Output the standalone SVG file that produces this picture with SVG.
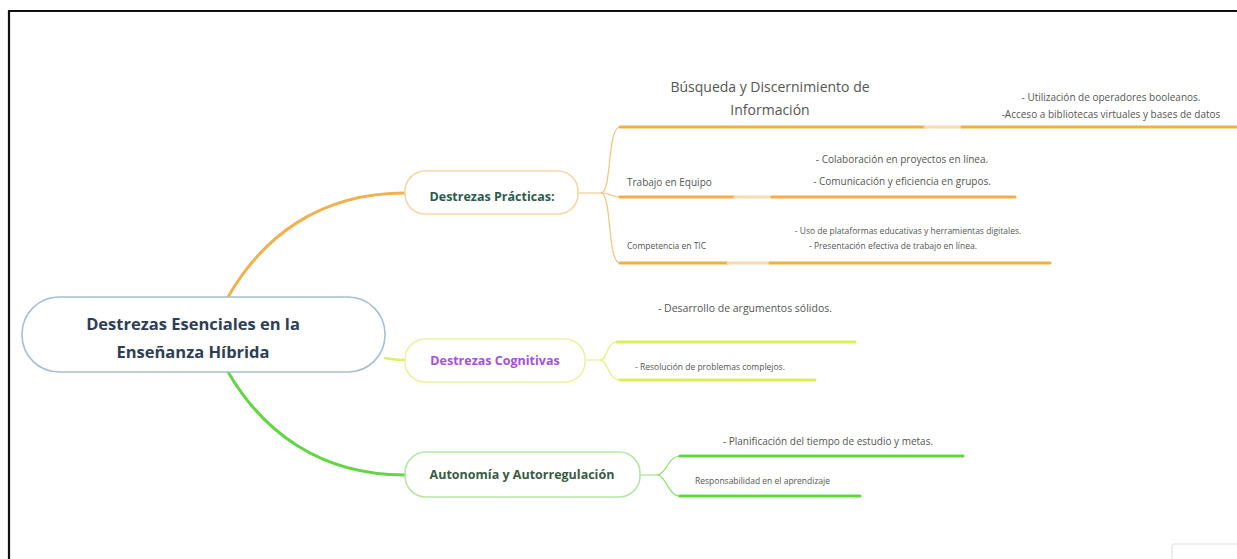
<svg xmlns="http://www.w3.org/2000/svg" width="1237" height="559" viewBox="0 0 1237 559">
<style>
.bg{fill:#ffffff}
.node{fill:#ffffff;stroke-width:1.6}
.nt{font-family:"Open Sans","Noto Sans",sans-serif;font-weight:bold;text-anchor:middle}
.lt{font-family:"Open Sans","Noto Sans",sans-serif;fill:#555555}
.thin{fill:none;stroke-width:1.2}
.ul{fill:none;stroke-width:3;stroke-linecap:round}
.o{stroke:#f2ad4a}
.op{stroke:#f7dcb0}
.y{stroke:#dcef5a}
.g{stroke:#5ed83c}
</style>
<rect class="bg" x="0" y="0" width="1237" height="559"/>
<path d="M9,559 V11 H1237" fill="none" stroke="#111111" stroke-width="2.2"/>
<rect x="1172" y="544" width="80" height="30" rx="3" fill="none" stroke="#e8e8e8" stroke-width="1.5"/>

<g id="connectors">
  <path d="M228,297 C262,238 318,193 405,193" fill="none" stroke="#f2b04e" stroke-width="3"/>
  <path d="M384,358 C392,359 398,360 407,360" fill="none" stroke="#dcef6a" stroke-width="2.5"/>
  <path d="M228,372 C262,430 318,475 405,475" fill="none" stroke="#62d644" stroke-width="3"/>
  <path class="thin" stroke="#f3c47c" d="M578,193 L601,193 C612,193 607,127 620,127"/>
  <path class="thin" stroke="#f3c47c" d="M601,193 C610,193 612,197 620,197"/>
  <path class="thin" stroke="#f3c47c" d="M601,193 C612,193 607,263 620,263"/>
  <path class="thin" stroke="#e2f07a" d="M585,360 L600,360 C608,360 606,342 617,342"/>
  <path class="thin" stroke="#e2f07a" d="M600,360 C608,360 608,380 620,380"/>
  <path class="thin" stroke="#8fe074" d="M640,475 L657,475 C666,475 668,456 680,456"/>
  <path class="thin" stroke="#8fe074" d="M657,475 C666,475 668,496 680,496"/>
</g>

<g id="root">
  <rect class="node" x="22" y="297" width="363" height="75" rx="37" stroke="#a7bdd6"/>
  <text class="nt" x="193" y="330" font-size="16.5" fill="#2f3e57">Destrezas Esenciales en la</text>
  <text class="nt" x="193" y="358" font-size="16.5" fill="#2f3e57">Enseñanza Híbrida</text>
</g>

<g id="practicas">
  <rect class="node" x="405" y="171" width="173" height="43" rx="20" stroke="#f6d7a6"/>
  <text class="nt" x="492" y="201" font-size="12.5" fill="#2d5a4c">Destrezas Prácticas:</text>
</g>

<g id="busqueda">
  <text class="lt" x="770" y="92" font-size="14" text-anchor="middle" fill="#444444">Búsqueda y Discernimiento de</text>
  <text class="lt" x="770" y="115" font-size="14" text-anchor="middle" fill="#444444">Información</text>
  <path class="ul o" d="M620,127 H925"/>
  <path class="ul op" d="M925,127 H962"/>
  <path class="ul o" d="M962,127 H1240"/>
  <text class="lt" x="1111" y="101" font-size="10" text-anchor="middle">- Utilización de operadores booleanos.</text>
  <text class="lt" x="1111" y="118" font-size="10" text-anchor="middle">-Acceso a bibliotecas virtuales y bases de datos</text>
</g>

<g id="trabajo">
  <text class="lt" x="627" y="186" font-size="10">Trabajo en Equipo</text>
  <text class="lt" x="902" y="163" font-size="10" text-anchor="middle">- Colaboración en proyectos en línea.</text>
  <text class="lt" x="902" y="185" font-size="10" text-anchor="middle">- Comunicación y eficiencia en grupos.</text>
  <path class="ul o" d="M620,197 H735"/>
  <path class="ul op" d="M735,197 H772"/>
  <path class="ul o" d="M772,197 H1015"/>
</g>

<g id="competencia">
  <text class="lt" x="627" y="249" font-size="8.5">Competencia en TIC</text>
  <text class="lt" x="908" y="234" font-size="8.5" text-anchor="middle">- Uso de plataformas educativas y herramientas digitales.</text>
  <text class="lt" x="893" y="249" font-size="8.5" text-anchor="middle">- Presentación efectiva de trabajo en línea.</text>
  <path class="ul o" d="M620,263 H728"/>
  <path class="ul op" d="M728,263 H770"/>
  <path class="ul o" d="M770,263 H1050"/>
</g>

<g id="cognitivas">
  <rect class="node" x="405" y="339" width="180" height="43" rx="20" stroke="#edf2a2"/>
  <text class="nt" x="495" y="365" font-size="12.5" fill="#a64fe0">Destrezas Cognitivas</text>
</g>

<g id="cog-items">
  <text class="lt" x="745" y="312" font-size="10.5" text-anchor="middle">- Desarrollo de argumentos sólidos.</text>
  <path class="ul y" d="M617,342 H855"/>
  <text class="lt" x="635" y="370" font-size="8.5">- Resolución de problemas complejos.</text>
  <path class="ul y" d="M620,380 H815"/>
</g>

<g id="autonomia">
  <rect class="node" x="405" y="452" width="235" height="45" rx="21" stroke="#b6e6a6"/>
  <text class="nt" x="522" y="479" font-size="12.5" fill="#3b5a44">Autonomía y Autorregulación</text>
</g>

<g id="auto-items">
  <text class="lt" x="828" y="445" font-size="10" text-anchor="middle">- Planificación del tiempo de estudio y metas.</text>
  <path class="ul g" d="M680,456 H963"/>
  <text class="lt" x="695" y="484" font-size="8.5">Responsabilidad en el aprendizaje</text>
  <path class="ul g" d="M680,496 H860"/>
</g>
</svg>
